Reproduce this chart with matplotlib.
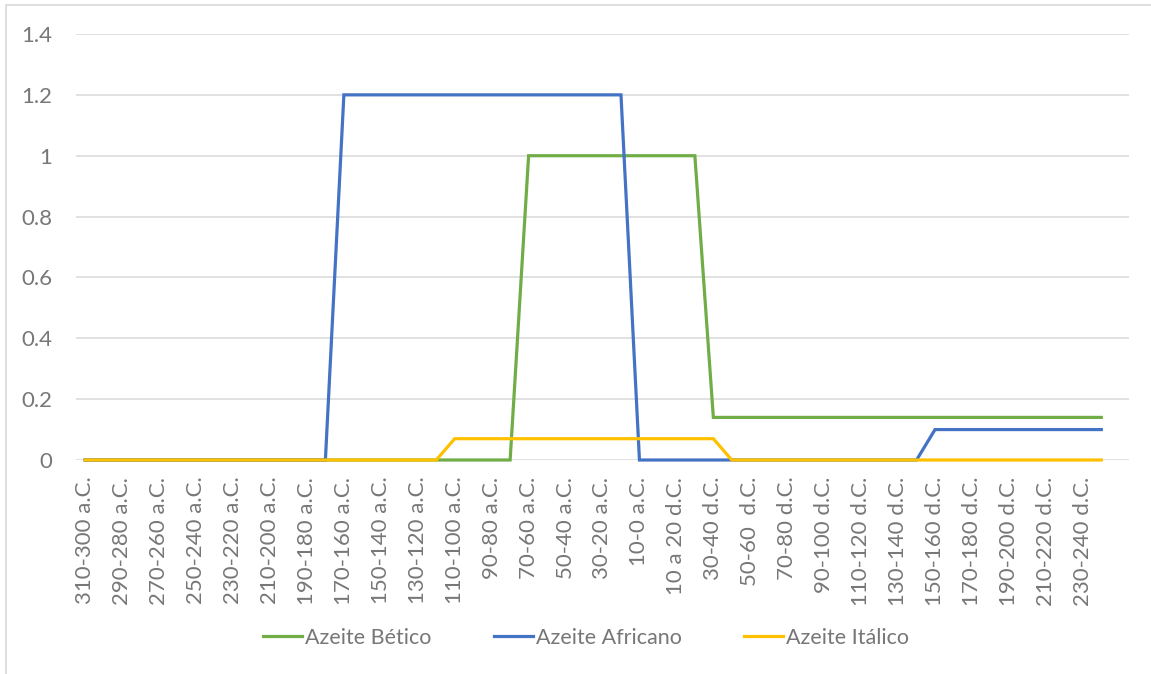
import matplotlib
matplotlib.use("Agg")
import matplotlib.pyplot as plt
from matplotlib.patches import Rectangle
from matplotlib.ticker import FuncFormatter
import numpy as np

plt.rcParams['font.family'] = ['Lato', 'DejaVu Sans']

TEXT = '#777777'
GRID = '#d9d9d9'
GREEN = '#70AD47'
BLUE = '#4472C4'
YELLOW = '#FFC000'

# categories (every other one is labelled in the original)
periods = [
    '310-300 a.C.', '300-290 a.C.', '290-280 a.C.', '280-270 a.C.',
    '270-260 a.C.', '260-250 a.C.', '250-240 a.C.', '240-230 a.C.',
    '230-220 a.C.', '220-210 a.C.', '210-200 a.C.', '200-190 a.C.',
    '190-180 a.C.', '180-170 a.C.', '170-160 a.C.', '160-150 a.C.',
    '150-140 a.C.', '140-130 a.C.', '130-120 a.C.', '120-110 a.C.',
    '110-100 a.C.', '100-90 a.C.', '90-80 a.C.', '80-70 a.C.',
    '70-60 a.C.', '60-50 a.C.', '50-40 a.C.', '40-30 a.C.',
    '30-20 a.C.', '20-10 a.C.', '10-0 a.C.', '0-10 d.C.',
    '10 a 20 d.C.', '20-30 d.C.', '30-40 d.C.', '40-50 d.C.',
    '50-60  d.C.', '60-70 d.C.', '70-80 d.C.', '80-90 d.C.',
    '90-100 d.C.', '100-110 d.C.', '110-120 d.C.', '120-130 d.C.',
    '130-140 d.C.', '140-150 d.C.', '150-160 d.C.', '160-170 d.C.',
    '170-180 d.C.', '180-190 d.C.', '190-200 d.C.', '200-210 d.C.',
    '210-220 d.C.', '220-230 d.C.', '230-240 d.C.', '240-250 d.C.',
    '',
]

N = np.nan
betico = [0, 0, 0, 0, 0, 0, 0, 0, 0, 0, 0, 0, 0, 0, 0, 0, 0, 0, 0, 0,
          0, 0, 0, 0, 1, 1, 1, 1, 1, 1, 1, 1, 1, 1, 0.14, 0.14, 0.14, 0.14, 0.14, 0.14,
          0.14, 0.14, 0.14, 0.14, 0.14, 0.14, 0.14, 0.14, 0.14, 0.14, 0.14, 0.14, 0.14, 0.14, 0.14, 0.14,
          N]
africano = [0, 0, 0, 0, 0, 0, 0, 0, 0, 0, 0, 0, 0, 0, 1.2, 1.2, 1.2, 1.2, 1.2, 1.2,
            1.2, 1.2, 1.2, 1.2, 1.2, 1.2, 1.2, 1.2, 1.2, 1.2, 0, 0, 0, 0, 0, 0, 0, 0, 0, 0,
            0, 0, 0, 0, 0, 0, 0.1, 0.1, 0.1, 0.1, 0.1, 0.1, 0.1, 0.1, 0.1, 0.1,
            N]
italico = [0, 0, 0, 0, 0, 0, 0, 0, 0, 0, 0, 0, 0, 0, 0, 0, 0, 0, 0, 0,
           0.07, 0.07, 0.07, 0.07, 0.07, 0.07, 0.07, 0.07, 0.07, 0.07, 0.07, 0.07, 0.07, 0.07, 0.07, 0, 0, 0, 0, 0,
           0, 0, 0, 0, 0, 0, 0, 0, 0, 0, 0, 0, 0, 0, 0, 0,
           N]

series = [('Azeite Bético', betico, GREEN),
          ('Azeite Africano', africano, BLUE),
          ('Azeite Itálico', italico, YELLOW)]

W, H = 1151, 674
fig = plt.figure(figsize=(W / 100, H / 100), dpi=100, facecolor='white')
ax = fig.add_axes([76 / W, 1 - 460 / H, (1129 - 76) / W, (460 - 34) / H])

x = np.arange(len(periods))
for name, vals, col in series:
    ax.plot(x, vals, color=col, linewidth=2.3, label=name,
            solid_joinstyle='miter', clip_on=False, zorder=3)

ax.set_xlim(-0.5, len(periods) - 0.5)
ax.set_ylim(0, 1.4)
ax.set_yticks(np.arange(0, 1.41, 0.2))
ax.yaxis.set_major_formatter(FuncFormatter(lambda v, _: f'{round(v, 1):g}'))
ax.grid(axis='y', color=GRID, linewidth=1.1, zorder=0)
ax.set_axisbelow(True)

ax.set_xticks(x[::2])
ax.set_xticklabels(periods[::2], rotation=90, va='top', ha='center')
ax.tick_params(axis='x', length=0, pad=12, labelsize=16, colors=TEXT)
ax.tick_params(axis='y', length=0, pad=17, labelsize=16, colors=TEXT)
for s in ax.spines.values():
    s.set_visible(False)

leg = fig.legend(loc='center', bbox_to_anchor=(586 / W, 1 - 638 / H), ncol=3,
                 frameon=False, fontsize=15.5, handlelength=1.8,
                 handletextpad=0.15, columnspacing=2.9)
for t in leg.get_texts():
    t.set_color(TEXT)

# chart area border (only top/left edges are inside the crop)
fig.patches.append(Rectangle((6 / W, -0.1), 1.2, 1.1 - 5 / H,
                             transform=fig.transFigure, fill=False,
                             edgecolor=GRID, linewidth=1.2))

fig.savefig('out.png', dpi=100, facecolor='white')
